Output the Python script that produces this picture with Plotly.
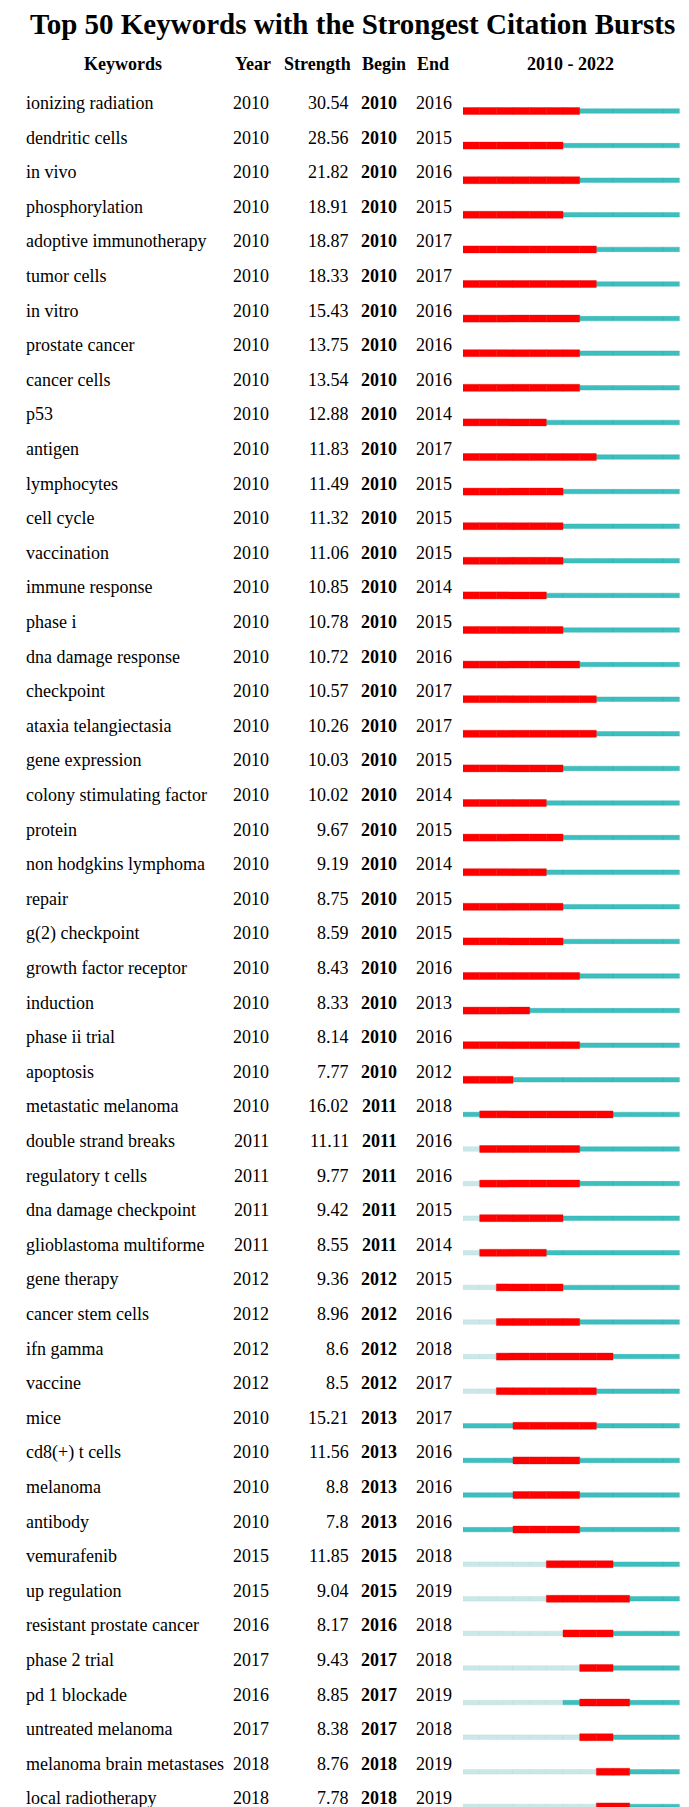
import plotly.graph_objects as go

keywords = [
    "ionizing radiation", "dendritic cells", "in vivo", "phosphorylation",
    "adoptive immunotherapy", "tumor cells", "in vitro", "prostate cancer",
    "cancer cells", "p53", "antigen", "lymphocytes", "cell cycle", "vaccination",
    "immune response", "phase i", "dna damage response", "checkpoint",
    "ataxia telangiectasia", "gene expression", "colony stimulating factor",
    "protein", "non hodgkins lymphoma", "repair", "g(2) checkpoint",
    "growth factor receptor", "induction", "phase ii trial", "apoptosis",
    "metastatic melanoma", "double strand breaks", "regulatory t cells",
    "dna damage checkpoint", "glioblastoma multiforme", "gene therapy",
    "cancer stem cells", "ifn gamma", "vaccine", "mice", "cd8(+) t cells",
    "melanoma", "antibody", "vemurafenib", "up regulation",
    "resistant prostate cancer", "phase 2 trial", "pd 1 blockade",
    "untreated melanoma", "melanoma brain metastases", "local radiotherapy",
]
years = [2010] * 30 + [2011] * 4 + [2012] * 4 + [2010] * 4 + [
    2015, 2015, 2016, 2017, 2016, 2017, 2018, 2018]
strengths = [
    "30.54", "28.56", "21.82", "18.91", "18.87", "18.33", "15.43", "13.75",
    "13.54", "12.88", "11.83", "11.49", "11.32", "11.06", "10.85", "10.78",
    "10.72", "10.57", "10.26", "10.03", "10.02", "9.67", "9.19", "8.75",
    "8.59", "8.43", "8.33", "8.14", "7.77", "16.02", "11.11", "9.77", "9.42",
    "8.55", "9.36", "8.96", "8.6", "8.5", "15.21", "11.56", "8.8", "7.8",
    "11.85", "9.04", "8.17", "9.43", "8.85", "8.38", "8.76", "7.78",
]
begins = [2010] * 29 + [2011] * 5 + [2012] * 4 + [2013] * 4 + [
    2015, 2015, 2016, 2017, 2017, 2017, 2018, 2018]
ends = [
    2016, 2015, 2016, 2015, 2017, 2017, 2016, 2016, 2016, 2014, 2017, 2015,
    2015, 2015, 2014, 2015, 2016, 2017, 2017, 2015, 2014, 2015, 2014, 2015,
    2015, 2016, 2013, 2016, 2012, 2018, 2016, 2016, 2015, 2014, 2015, 2016,
    2018, 2017, 2017, 2016, 2016, 2016, 2018, 2019, 2018, 2018, 2019, 2018,
    2019, 2019,
]
first_year, last_year = 2010, 2022
headers = ["Keywords", "Year", "Strength", "Begin", "End",
           f"{first_year} - {last_year}"]

RED = "#ff0000"
TEAL = "#3ebfbf"
LIGHT = "#cbe8e8"
FONT = "Liberation Serif, Times New Roman, serif"
W, H = 689, 1807
ROW0, ROW_H = 97, 34.6
BAR_SHIFT = 6 / ROW_H
HEADER_Y = (58 - ROW0) / ROW_H

# split every row into one cell per year
cells = {"light": ([], []), "teal": ([], []), "red": ([], [])}
for i in range(len(keywords)):
    for yr in range(first_year, last_year + 1):
        if yr < years[i]:
            key = "light"
        elif begins[i] <= yr <= ends[i]:
            key = "red"
        else:
            key = "teal"
        cells[key][0].append(i + BAR_SHIFT)
        cells[key][1].append(yr - 0.5)

fig = go.Figure()
styles = {
    "light": (LIGHT, 4.5 / ROW_H, "rgba(180,215,215,0.6)"),
    "teal": (TEAL, 4.5 / ROW_H, "rgba(40,170,170,0.6)"),
    "red": (RED, 7 / ROW_H, "rgba(225,0,0,0.6)"),
}
for key, (ys, starts) in cells.items():
    color, width, edge = styles[key]
    fig.add_trace(go.Bar(
        y=ys, x=[1] * len(ys), base=starts, orientation="h",
        width=width, marker=dict(color=color, line=dict(color=edge, width=0.6)),
        showlegend=False, hoverinfo="skip",
    ))


def px(x):
    return x / W


def add_text(x, y, text, anchor="left", bold=False, size=18):
    fig.add_annotation(
        x=px(x), y=y, xref="paper", yref="y", text=f"<b>{text}</b>" if bold else text,
        showarrow=False, xanchor=anchor, yanchor="middle", borderpad=0, yshift=2,
        font=dict(family=FONT, size=size, color="black"),
    )


for i, kw in enumerate(keywords):
    add_text(17, i, kw)
    add_text(243, i, str(years[i]), anchor="center")
    add_text(342, i, strengths[i], anchor="right")
    add_text(371, i, str(begins[i]), anchor="center", bold=True)
    add_text(426.5, i, str(ends[i]), anchor="center")

for x, h in zip([115.5, 245, 309, 376, 425, 562], headers):
    add_text(x, HEADER_Y, h, anchor="center", bold=True)

fig.add_annotation(
    x=0.5, y=1 - 16 / H, xref="paper", yref="paper",
    text="<b>Top 50 Keywords with the Strongest Citation Bursts</b>",
    showarrow=False, xanchor="center", yanchor="middle", borderpad=0,
    font=dict(family=FONT, size=29, color="black"),
)

fig.update_layout(
    width=W, height=H, margin=dict(l=0, r=0, t=0, b=0),
    paper_bgcolor="white", plot_bgcolor="white", barmode="overlay",
    xaxis=dict(range=[first_year - 0.5, last_year + 0.5],
               domain=[455 / W, 671.7 / W], visible=False, fixedrange=True),
    yaxis=dict(range=[(H - ROW0) / ROW_H, -ROW0 / ROW_H],
               domain=[0, 1], visible=False, fixedrange=True),
)

fig.write_html("out.html")
